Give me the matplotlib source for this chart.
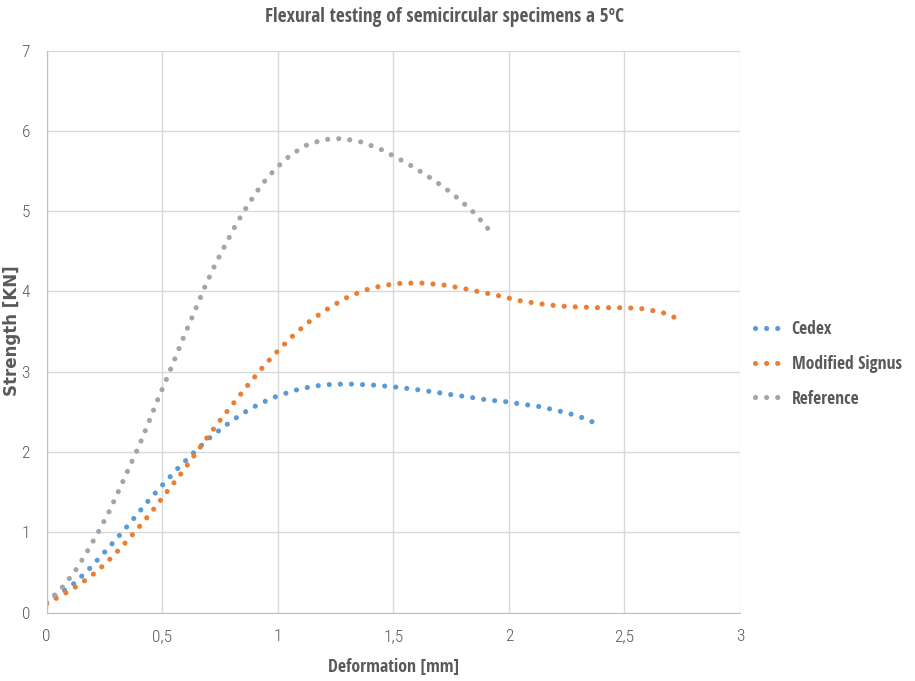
import matplotlib
matplotlib.use("Agg")
import matplotlib.pyplot as plt

plt.rcParams["font.family"] = ["Open Sans Condensed", "DejaVu Sans"]

# values
cedex_x = [0.0, 0.036, 0.108, 0.176, 0.241, 0.307, 0.372, 0.434, 0.500, 0.565, 0.633, 0.699,
           0.771, 0.841, 0.916, 0.994, 1.073, 1.156, 1.242, 1.327, 1.414, 1.500, 1.585, 1.670,
           1.754, 1.839, 1.922, 1.968, 2.050, 2.134, 2.217, 2.299, 2.377]
cedex_y = [0.12, 0.207, 0.336, 0.519, 0.722, 0.934, 1.154, 1.373, 1.585, 1.788, 1.983, 2.162,
           2.324, 2.469, 2.593, 2.693, 2.768, 2.822, 2.846, 2.846, 2.834, 2.813, 2.784, 2.751,
           2.714, 2.680, 2.643, 2.636, 2.599, 2.566, 2.512, 2.450, 2.358]

signus_x = [0.0, 0.036, 0.112, 0.186, 0.256, 0.323, 0.389, 0.452, 0.513, 0.575, 0.635, 0.693,
            0.754, 0.816, 0.878, 0.942, 1.009, 1.076, 1.146, 1.219, 1.294, 1.372, 1.455, 1.540,
            1.627, 1.713, 1.797, 1.880, 1.964, 2.047, 2.130, 2.215, 2.302, 2.388, 2.476, 2.564,
            2.649, 2.689, 2.728]
signus_y = [0.11, 0.170, 0.295, 0.440, 0.614, 0.813, 1.029, 1.245, 1.477, 1.705, 1.942, 2.174,
            2.407, 2.635, 2.859, 3.079, 3.286, 3.477, 3.647, 3.788, 3.917, 4.012, 4.075, 4.104,
            4.104, 4.083, 4.041, 3.992, 3.942, 3.885, 3.848, 3.819, 3.807, 3.798, 3.798, 3.791,
            3.748, 3.716, 3.661]

ref_x = [0.0, 0.062, 0.120, 0.173, 0.223, 0.271, 0.314, 0.357, 0.401, 0.441, 0.480, 0.522,
         0.562, 0.602, 0.643, 0.683, 0.726, 0.774, 0.821, 0.875, 0.929, 0.990, 1.058, 1.125,
         1.200, 1.282, 1.365, 1.442, 1.514, 1.586, 1.654, 1.723, 1.791, 1.856, 1.915]
ref_y = [0.124, 0.295, 0.502, 0.747, 1.000, 1.261, 1.531, 1.805, 2.083, 2.365, 2.647, 2.929,
         3.212, 3.494, 3.768, 4.046, 4.315, 4.585, 4.842, 5.095, 5.324, 5.527, 5.705, 5.822,
         5.892, 5.905, 5.859, 5.776, 5.668, 5.552, 5.427, 5.290, 5.133, 4.963, 4.763]

x_ticks = [0, 0.5, 1, 1.5, 2, 2.5, 3]
x_labels = ["0", "0,5", "1", "1,5", "2", "2,5", "3"]
y_ticks = [0, 1, 2, 3, 4, 5, 6, 7]

fig = plt.figure(figsize=(9.15, 6.81), dpi=100)
ax = fig.add_axes([0.0509, 0.1003, 0.7578, 0.8255])

dots = dict(linewidth=3.7, linestyle=(0, (0.01, 2.15)), dash_capstyle="round")
ax.plot(cedex_x, cedex_y, color="#5B9BD5", label="Cedex", **dots)
ax.plot(signus_x, signus_y, color="#ED7D31", label="Modified Signus", **dots)
ax.plot(ref_x, ref_y, color="#A5A5A5", label="Reference", **dots)

ax.set_xlim(0, 3)
ax.set_ylim(0, 7)
ax.set_xticks(x_ticks)
ax.set_xticklabels(x_labels)
ax.set_yticks(y_ticks)
ax.tick_params(length=0, labelsize=12.5, colors="#595959")
ax.tick_params(axis="x", pad=12)
ax.tick_params(axis="y", pad=12)
for lab in ax.get_xticklabels() + ax.get_yticklabels():
    lab.set_family(["Roboto Condensed", "DejaVu Sans"])
    lab.set_fontweight("light")
ax.grid(True, color="#D9D9D9", linewidth=1)
ax.set_axisbelow(True)
for s in ["top", "right"]:
    ax.spines[s].set_visible(False)
for s in ["left", "bottom"]:
    ax.spines[s].set_color("#BFBFBF")

ax.set_xlabel("Deformation [mm]", fontsize=12.8, fontweight="bold", color="#595959", labelpad=10)
fig.text(0.013, 0.515, "Strength [KN]", rotation=90, ha="center", va="center", fontsize=12,
         fontweight="bold", color="#595959", family="DejaVu Sans")

fig.text(0.486, 0.975, "Flexural testing of semicircular specimens a 5ºC", ha="center", va="center",
         fontsize=13.9, fontweight="bold", color="#595959")

leg = fig.legend(loc="center left", bbox_to_anchor=(0.8077, 0.4655), frameon=False,
                 fontsize=12.6, handlelength=1.6, labelspacing=0.95, handletextpad=0.5)
for t in leg.get_texts():
    t.set_color("#595959")
    t.set_fontweight("bold")

fig.savefig("out.png", dpi=100)
